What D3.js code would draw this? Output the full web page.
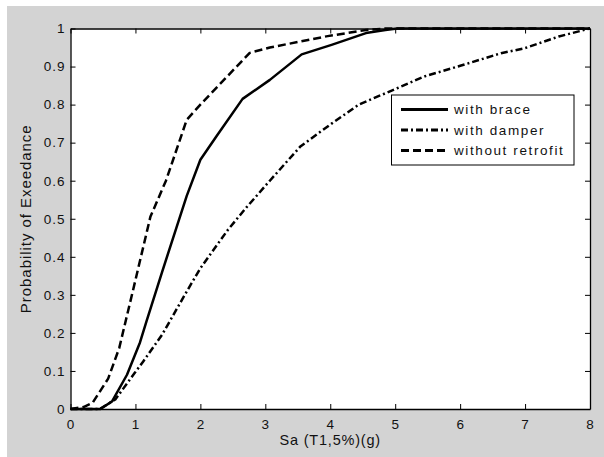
<!DOCTYPE html>
<html>
<head>
<meta charset="utf-8">
<script src="https://cdn.jsdelivr.net/npm/d3@7"></script>
<style>
  body { margin: 0; background: #ffffff; }
  text { font-family: "Liberation Sans", Arial, sans-serif; fill: #111; }
</style>
</head>
<body>
<div id="chart"></div>
<script>
//-------------------------------------------------------
// data
//-------------------------------------------------------
const seriesNames = ["with brace", "with damper", "without retrofit"];

const braceX = [0, 0.46, 0.64, 0.87, 1.07, 1.17, 1.41, 1.79, 2.0, 2.24, 2.65, 3.07, 3.56, 4.02, 4.55, 4.85, 5.03, 8];
const braceY = [0, 0, 0.02, 0.09, 0.175, 0.23, 0.36, 0.56, 0.655, 0.715, 0.815, 0.865, 0.932, 0.957, 0.988, 0.996, 1, 1];

const damperX = [0, 0.45, 0.69, 0.99, 1.12, 1.41, 1.76, 2.0, 2.42, 2.71, 3.07, 3.54, 4.02, 4.44, 5.03, 5.45, 6.04, 6.63, 6.99, 7.52, 8];
const damperY = [0, 0, 0.025, 0.095, 0.125, 0.195, 0.30, 0.37, 0.47, 0.53, 0.60, 0.69, 0.75, 0.80, 0.843, 0.874, 0.904, 0.935, 0.948, 0.979, 1];

const noRetrofitX = [0, 0.2, 0.34, 0.58, 0.75, 0.96, 1.23, 1.47, 1.79, 2.0, 2.76, 3.07, 3.96, 4.55, 4.85, 8];
const noRetrofitY = [0, 0.005, 0.016, 0.08, 0.16, 0.31, 0.505, 0.60, 0.76, 0.80, 0.936, 0.95, 0.98, 0.996, 1, 1];

const xTicks = [0, 1, 2, 3, 4, 5, 6, 7, 8];
const yTicks = [0, 0.1, 0.2, 0.3, 0.4, 0.5, 0.6, 0.7, 0.8, 0.9, 1];

//-------------------------------------------------------
// properties
//-------------------------------------------------------
let properties = {
    width: 604,
    height: 457,
    plot: { left: 70.5, right: 590, top: 28.5, bottom: 409 },
    tickLength: 5,
    lineWidth: 2.5,
    dash: {
        solid: null,
        dashdot: "7,3,2,3",
        dashed: "8,4"
    },
    color: {
        frame: "#d3d3d3",
        ink: "#000000",
        white: "#ffffff"
    }
};

const svg = d3.select("#chart")
    .append("svg")
    .attr("width", properties.width)
    .attr("height", properties.height);

// gray figure background
svg.append("rect")
    .attr("x", 7)
    .attr("y", 6)
    .attr("width", properties.width - 7)
    .attr("height", properties.height - 6)
    .attr("fill", properties.color.frame);

const x = d3.scaleLinear().domain([0, 8]).range([properties.plot.left, properties.plot.right]);
const y = d3.scaleLinear().domain([0, 1]).range([properties.plot.bottom, properties.plot.top]);

// white axes area
svg.append("rect")
    .attr("x", properties.plot.left)
    .attr("y", properties.plot.top)
    .attr("width", properties.plot.right - properties.plot.left)
    .attr("height", properties.plot.bottom - properties.plot.top)
    .attr("fill", properties.color.white);

// axes (matlab style: inward ticks on all four sides)
const tl = properties.tickLength;
const fmtY = d => d === 0 || d === 1 ? String(d) : d3.format(".1f")(d);

svg.append("g")
    .attr("transform", `translate(0,${properties.plot.bottom})`)
    .call(d3.axisBottom(x).tickValues(xTicks).tickSizeInner(-tl).tickSizeOuter(0).tickPadding(10));
svg.append("g")
    .attr("transform", `translate(0,${properties.plot.top})`)
    .call(d3.axisTop(x).tickValues(xTicks).tickSizeInner(-tl).tickSizeOuter(0).tickFormat(""));
svg.append("g")
    .attr("transform", `translate(${properties.plot.left},0)`)
    .call(d3.axisLeft(y).tickValues(yTicks).tickSizeInner(-tl).tickSizeOuter(0).tickPadding(5).tickFormat(fmtY));
svg.append("g")
    .attr("transform", `translate(${properties.plot.right},0)`)
    .call(d3.axisRight(y).tickValues(yTicks).tickSizeInner(-tl).tickSizeOuter(0).tickFormat(""));

svg.selectAll(".domain").attr("stroke", properties.color.ink).attr("stroke-width", 1.3);
svg.selectAll(".tick line").attr("stroke", properties.color.ink).attr("stroke-width", 1);
svg.selectAll(".tick text")
    .attr("font-size", 13.5)
    .attr("fill", "#111")
    .attr("letter-spacing", "1px")
    .style("font-family", "'Liberation Sans', Arial, sans-serif");

// axis titles
svg.append("text")
    .attr("x", (properties.plot.left + properties.plot.right) / 2)
    .attr("y", 444.5)
    .attr("text-anchor", "middle")
    .attr("font-size", 14.5)
    .attr("letter-spacing", "0.8px")
    .text("Sa (T1,5%)(g)");

svg.append("text")
    .attr("transform", `translate(31,${(properties.plot.top + properties.plot.bottom) / 2}) rotate(-90)`)
    .attr("text-anchor", "middle")
    .attr("font-size", 15)
    .attr("letter-spacing", "0.95px")
    .text("Probability of Exeedance");

//-------------------------------------------------------
// curves
//-------------------------------------------------------
const series = [
    { name: seriesNames[0], xs: braceX, ys: braceY, dash: properties.dash.solid },
    { name: seriesNames[1], xs: damperX, ys: damperY, dash: properties.dash.dashdot },
    { name: seriesNames[2], xs: noRetrofitX, ys: noRetrofitY, dash: properties.dash.dashed }
];

const line = d3.line()
    .x(d => x(d[0]))
    .y(d => y(d[1]));

svg.append("g")
    .attr("id", "curves")
    .selectAll("path")
    .data(series)
    .enter()
    .append("path")
    .attr("d", s => line(s.xs.map((v, i) => [v, s.ys[i]])))
    .attr("fill", "none")
    .attr("stroke", properties.color.ink)
    .attr("stroke-width", properties.lineWidth)
    .attr("stroke-linejoin", "round")
    .attr("stroke-dasharray", s => s.dash);

//-------------------------------------------------------
// legend
//-------------------------------------------------------
const legend = svg.append("g").attr("id", "legend");
legend.append("rect")
    .attr("x", 391.5)
    .attr("y", 95)
    .attr("width", 182.5)
    .attr("height", 70)
    .attr("fill", properties.color.white)
    .attr("stroke", properties.color.ink)
    .attr("stroke-width", 1);

const rows = legend.selectAll("g.row")
    .data(series)
    .enter()
    .append("g")
    .attr("class", "row")
    .attr("transform", (d, i) => `translate(0,${109.5 + i * 20.5})`);

rows.append("line")
    .attr("x1", 401)
    .attr("x2", 448)
    .attr("y1", 0)
    .attr("y2", 0)
    .attr("stroke", properties.color.ink)
    .attr("stroke-width", properties.lineWidth + 0.5)
    .attr("stroke-dasharray", d => d.dash);

rows.append("text")
    .attr("x", 454)
    .attr("y", 4.8)
    .attr("font-size", 13.5)
    .attr("letter-spacing", "1.6px")
    .text(d => d.name);
</script>
</body>
</html>
